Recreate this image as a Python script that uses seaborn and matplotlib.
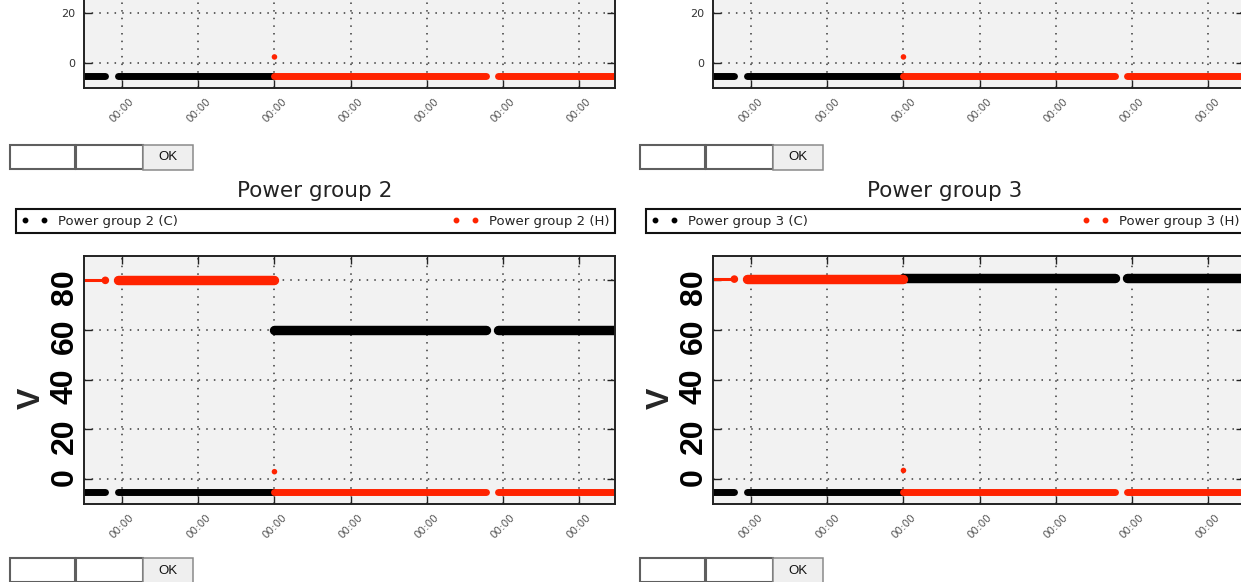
import matplotlib
matplotlib.use("Agg")
import matplotlib.pyplot as plt
from matplotlib.patches import Rectangle
from matplotlib.lines import Line2D
import numpy as np
import pandas as pd
import seaborn as sns

# ---------------- data ----------------
# time axis in days, one tick per midnight
tick_days = [0, 1, 2, 3, 4, 5, 6]
tick_labels = ["00:00"] * 7
y_ticks = [0, 20, 40, 60, 80]
y_tick_labels = ["0", "20", "40", "60", "80"]

# logged segments (start, end) in days; logging gaps lie between them
seg_start = [-0.6, -0.06, 2.0, 4.93]
seg_end = [-0.22, 2.0, 4.78, 6.6]

# level per segment (None = not on screen)
pg0_c = [-5, -5, None, None]
pg0_h = [None, None, -5, -5]
pg1_c = [-5, -5, None, None]
pg1_h = [None, None, -5, -5]
pg2_c = [-5, -5, 60, 60]
pg2_h = [80, 80, -5, -5]
pg3_c = [-5, -5, 81, 81]
pg3_h = [80.5, 80.5, -5, -5]

# single H sample logged at the changeover
spike_day = 2.0
spike_pg0 = 2.5
spike_pg1 = 2.5
spike_pg2 = 3.0
spike_pg3 = 3.5

# ---------------- styling ----------------
W, H = 1241, 582
RED = "#ff2300"
BLACK = "#000000"
C_WIDTHS = [5.0, 5.0, 6.8, 6.8]
H_WIDTHS = [2.2, 6.8, 5.0, 5.0]

sns.set_style("ticks")
plt.rcParams["font.family"] = ["DejaVu Sans"]

fig = plt.figure(figsize=(W / 100, H / 100), dpi=100, facecolor="white")


def ax_rect(left, top, width, height):
    return [left / W, 1 - (top + height) / H, width / W, height / H]


def px_box(x, y, w, h, **kw):
    r = Rectangle((x / W, 1 - (y + h) / H), w / W, h / H,
                  transform=fig.transFigure, **kw)
    fig.add_artist(r)


def draw_series(ax, values, color, widths, end_dot=False):
    rows = []
    for i, (a, b, v) in enumerate(zip(seg_start, seg_end, values)):
        if v is None:
            continue
        rows += [(i, a, v), (i, b, v)]
    df = pd.DataFrame(rows, columns=["seg", "day", "value"])
    for i, sub in df.groupby("seg"):
        sns.lineplot(data=sub, x="day", y="value", color=color,
                     linewidth=widths[i], solid_capstyle="round",
                     estimator=None, errorbar=None, legend=False, ax=ax)
    if end_dot and values[0] is not None:
        sns.scatterplot(x=[seg_end[0]], y=[values[0]], color=color, s=30,
                        edgecolor="none", legend=False, ax=ax)


def style_axes(ax, big):
    ax.set_facecolor("#f2f2f2")
    ax.set_axisbelow(True)
    ax.set_xlim(-0.5, 6.47)
    ax.set_ylim(-10, 90)
    ax.set_xticks(tick_days, tick_labels, rotation=45, ha="center",
                  fontsize=7.5, color="#555555")
    if big:
        ax.set_yticks(y_ticks, y_tick_labels, rotation=90, fontsize=23,
                      fontweight="bold", family="Liberation Sans", color="black")
        ax.tick_params(axis="y", pad=3)
    else:
        # only the lowest two ticks are within the visible part of this panel
        ax.set_yticks(y_ticks[:2], y_tick_labels[:2], fontsize=8, color="#333333")
        ax.tick_params(axis="y", pad=6)
    ax.tick_params(axis="x", pad=6)
    ax.tick_params(direction="in", length=6, width=1, color="#222222",
                   top=True, right=True)
    ax.grid(True, color="#3a3a3a", linestyle=(0, (1, 4)), linewidth=1.1)
    for sp in ax.spines.values():
        sp.set_visible(True)
        sp.set_linewidth(1.4)
        sp.set_color("#222222")
    ax.set_xlabel("")
    ax.set_ylabel("")


def draw_form(x0, y0):
    px_box(x0, y0, 65, 24, facecolor="white", edgecolor="#5f5f5f", linewidth=1.5)
    px_box(x0 + 66, y0, 67, 24, facecolor="white", edgecolor="#5f5f5f", linewidth=1.5)
    px_box(x0 + 133, y0, 50, 25, facecolor="#efefef", edgecolor="#8a8a8a", linewidth=1.1)
    fig.text((x0 + 158) / W, 1 - (y0 + 12.5) / H, "OK", ha="center", va="center",
             fontsize=9.5, color="#111111", family="Liberation Sans")


columns = [
    dict(x=84, form_x=10, title_x=315, legend_x=16,
         top=(pg0_c, pg0_h, spike_pg0),
         bottom=(pg2_c, pg2_h, spike_pg2), name="Power group 2"),
    dict(x=713, form_x=640, title_x=945, legend_x=646,
         top=(pg1_c, pg1_h, spike_pg1),
         bottom=(pg3_c, pg3_h, spike_pg3), name="Power group 3"),
]

for col in columns:
    # upper panel, mostly scrolled out of view
    ax_top = fig.add_axes(ax_rect(col["x"], -160.5, 531, 248.5))
    c_vals, h_vals, spike = col["top"]
    draw_series(ax_top, c_vals, BLACK, C_WIDTHS)
    draw_series(ax_top, h_vals, RED, H_WIDTHS)
    sns.scatterplot(x=[spike_day], y=[spike], color=RED, s=16, edgecolor="none",
                    legend=False, ax=ax_top)
    style_axes(ax_top, big=False)

    draw_form(col["form_x"], 145)

    fig.text(col["title_x"] / W, 1 - 191 / H, col["name"], ha="center",
             va="center", fontsize=15.5, color="#222222")

    ax = fig.add_axes(ax_rect(col["x"], 255.5, 531, 248.5))
    c_vals, h_vals, spike = col["bottom"]
    draw_series(ax, c_vals, BLACK, C_WIDTHS)
    draw_series(ax, h_vals, RED, H_WIDTHS, end_dot=True)
    sns.scatterplot(x=[spike_day], y=[spike], color=RED, s=16, edgecolor="none",
                    legend=False, ax=ax)
    style_axes(ax, big=True)
    ax.set_ylabel("V", fontsize=23, fontweight="bold", family="Liberation Sans")
    ax.yaxis.set_label_coords(-0.071, 0.4266)

    handles = [
        Line2D([], [], marker="o", linestyle="none", color=BLACK, markersize=3.2),
        Line2D([], [], marker="o", linestyle="none", color=RED, markersize=3.2),
    ]
    leg = ax.legend(handles, [f"{col['name']} (C)", f"{col['name']} (H)"],
                    loc="lower left",
                    bbox_to_anchor=(col["legend_x"] / W, 1 - 233 / H, 599 / W, 25 / H),
                    bbox_transform=fig.transFigure, mode="expand", ncol=2,
                    numpoints=2, fontsize=9.5, borderaxespad=0, frameon=True,
                    fancybox=False, framealpha=1, facecolor="white",
                    edgecolor="#111111")
    leg.get_frame().set_linewidth(1.5)
    for t in leg.get_texts():
        t.set_color("#222222")

    draw_form(col["form_x"], 558)

fig.savefig("out.png", dpi=100, facecolor="white")
